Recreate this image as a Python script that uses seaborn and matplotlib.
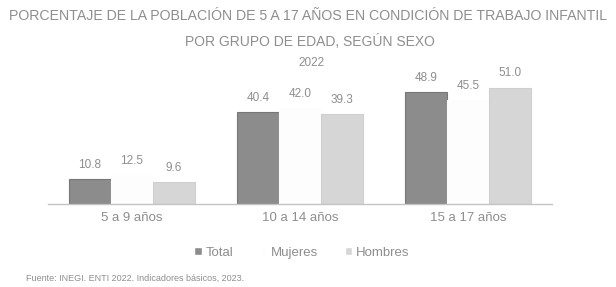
import matplotlib
matplotlib.use("Agg")
import matplotlib.pyplot as plt
import seaborn as sns
import pandas as pd

grupos = ["5 a 9 años", "10 a 14 años", "15 a 17 años"]
series = ["Total", "Mujeres", "Hombres"]
total = [10.8, 40.4, 48.9]
mujeres = [12.5, 42.0, 45.5]
hombres = [9.6, 39.3, 51.0]
titulo1 = "PORCENTAJE DE LA POBLACIÓN DE 5 A 17 AÑOS EN CONDICIÓN DE TRABAJO INFANTIL"
titulo2 = "POR GRUPO DE EDAD, SEGÚN SEXO"
anio = "2022"
fuente = "Fuente: INEGI. ENTI 2022. Indicadores básicos, 2023."

rows = []
for s, vals in zip(series, [total, mujeres, hombres]):
    for g, v in zip(grupos, vals):
        rows.append({"grupo": g, "sexo": s, "valor": v})
df = pd.DataFrame(rows)

sns.set_theme(style="white")
plt.rcParams["font.family"] = ["Liberation Sans", "DejaVu Sans"]

txt = "#8e8e8e"
fig = plt.figure(figsize=(6.16, 2.87), dpi=100)
ax = fig.add_axes([0.078, 0.289, 0.818, 0.477])
palette = {"Total": "#8c8c8c", "Mujeres": "#fdfdfd", "Hombres": "#d6d6d6"}
sns.barplot(data=df, x="grupo", y="valor", hue="sexo", order=grupos,
            hue_order=series, palette=palette, width=0.75, saturation=1,
            ax=ax, legend=True)
for cont, ec in zip(ax.containers, ["#777777", "#fdfdfd", "#cfcfcf"]):
    for p in cont:
        p.set_edgecolor(ec)
        p.set_linewidth(0.8)
    ax.bar_label(cont, fmt="%.1f", padding=6, fontsize=8.5, color=txt)

ax.set_xlim(-0.5, 2.5)
ax.set_ylim(0, 60)
ax.set_xlabel("")
ax.set_ylabel("")
ax.set_yticks([])
for s in ["left", "right", "top"]:
    ax.spines[s].set_visible(False)
ax.spines["bottom"].set_color("#c4c4c4")
ax.spines["bottom"].set_linewidth(1.0)
ax.tick_params(axis="x", length=0, pad=6, labelsize=9.5, labelcolor=txt)

handles, labels = ax.get_legend_handles_labels()
ax.legend_.remove()
fig.legend(handles, labels, loc="center", bbox_to_anchor=(0.49, 0.118),
           ncol=3, frameon=False, fontsize=9.5, labelcolor=txt,
           handlelength=0.55, handleheight=0.55, handletextpad=0.3,
           columnspacing=2.0)

fig.text(9 / 616, 1 - 16 / 287, titulo1, ha="left", va="center",
         fontsize=10.2, color=txt)
fig.text(0.503, 1 - 42 / 287, titulo2, ha="center", va="center",
         fontsize=10, color=txt)
fig.text(0.505, 1 - 63 / 287, anio, ha="center", va="center",
         fontsize=8.5, color=txt)
fig.text(26 / 616, 1 - 278 / 287, fuente, ha="left", va="center",
         fontsize=6.5, color=txt)

fig.savefig("out.png", dpi=100)
